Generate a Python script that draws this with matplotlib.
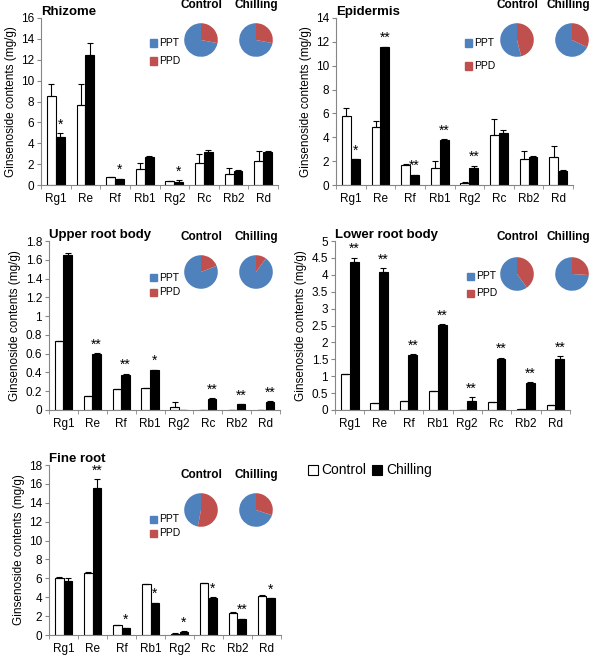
import numpy as np
import matplotlib
matplotlib.use('Agg')
import matplotlib.pyplot as plt
from matplotlib.patches import Rectangle
from matplotlib.ticker import FuncFormatter

plt.rcParams['font.family'] = ['Liberation Sans', 'DejaVu Sans']

ginsenosides = ['Rg1', 'Re', 'Rf', 'Rb1', 'Rg2', 'Rc', 'Rb2', 'Rd']

# values (mg/g), + upper error bars
rhizome_ctrl = [8.54, 7.68, 0.74, 1.57, 0.35, 2.14, 1.06, 2.34]
rhizome_ctrl_err = [1.15, 1.98, 0.03, 0.58, 0.03, 0.8, 0.54, 0.96]
rhizome_chil = [4.64, 12.48, 0.58, 2.72, 0.29, 3.2, 1.38, 3.2]
rhizome_chil_err = [0.32, 1.12, 0.04, 0.05, 0.19, 0.13, 0.04, 0.04]
rhizome_stars = ['*', '', '*', '', '*', '', '', '']

epi_ctrl = [5.8, 4.87, 1.71, 1.46, 0.2, 4.17, 2.18, 2.38]
epi_ctrl_err = [0.64, 0.53, 0.03, 0.59, 0.03, 1.34, 0.7, 0.9]
epi_chil = [2.16, 11.54, 0.84, 3.81, 1.46, 4.34, 2.38, 1.18]
epi_chil_err = [0.04, 0.06, 0.04, 0.05, 0.17, 0.28, 0.08, 0.04]
epi_stars = ['*', '**', '**', '**', '**', '', '', '']

upper_ctrl = [0.735, 0.15, 0.22, 0.23, 0.035, 0.0, 0.0, 0.005]
upper_ctrl_err = [0.0, 0.0, 0.005, 0.0, 0.045, 0.0, 0.0, 0.0]
upper_chil = [1.65, 0.6, 0.373, 0.426, 0.003, 0.12, 0.06, 0.089]
upper_chil_err = [0.02, 0.01, 0.015, 0.005, 0.0, 0.005, 0.005, 0.01]
upper_stars = ['', '**', '**', '*', '', '**', '**', '**']

lower_ctrl = [1.055, 0.2, 0.27, 0.57, 0.0, 0.25, 0.03, 0.14]
lower_ctrl_err = [0.0, 0.0, 0.0, 0.0, 0.0, 0.0, 0.0, 0.0]
lower_chil = [4.39, 4.09, 1.63, 2.51, 0.27, 1.5, 0.79, 1.51]
lower_chil_err = [0.12, 0.1, 0.03, 0.02, 0.1, 0.05, 0.03, 0.09]
lower_stars = ['**'] * 8

fine_ctrl = [6.07, 6.6, 1.06, 5.37, 0.14, 5.5, 2.36, 4.17]
fine_ctrl_err = [0.05, 0.02, 0.05, 0.05, 0.02, 0.05, 0.03, 0.05]
fine_chil = [5.72, 15.53, 0.7, 3.39, 0.35, 3.95, 1.69, 3.88]
fine_chil_err = [0.28, 0.95, 0.05, 0.05, 0.1, 0.1, 0.05, 0.05]
fine_stars = ['', '**', '*', '*', '*', '*', '**', '*']

# PPD share of the pies (control, chilling)
ppd_share = {
    'Rhizome': (0.28, 0.28),
    'Epidermis': (0.46, 0.32),
    'Upper root body': (0.19, 0.10),
    'Lower root body': (0.40, 0.26),
    'Fine root': (0.53, 0.30),
}

BLUE = '#4F81BD'
RED = '#C0504D'
GRAY = '#868686'

W, H = 592, 655
fig = plt.figure(figsize=(W / 100, H / 100), dpi=100)


def px_axes(l, t, r, b):
    return fig.add_axes([l / W, 1 - b / H, (r - l) / W, (b - t) / H])


def fx(x):
    return x / W


def fy(y):
    return 1 - y / H


def bar_panel(box, title, ctrl, ctrl_err, chil, chil_err, stars, ymax, ystep):
    ax = px_axes(*box)
    x = np.arange(len(ginsenosides))
    w = 0.3
    ax.bar(x - w / 2, ctrl, w, color='white', edgecolor='black', linewidth=0.8,
           yerr=[np.zeros(8), ctrl_err], capsize=2.5,
           error_kw=dict(elinewidth=0.8, capthick=0.8, ecolor='black'), zorder=2)
    ax.bar(x + w / 2, chil, w, color='black', edgecolor='black', linewidth=0.8,
           yerr=[np.zeros(8), chil_err], capsize=2.5,
           error_kw=dict(elinewidth=0.8, capthick=0.8, ecolor='black'), zorder=2)
    for i, s in enumerate(stars):
        if s:
            ax.annotate(s, (x[i] + w / 2, chil[i] + chil_err[i]), xytext=(0, 1),
                        textcoords='offset points', ha='center', va='bottom',
                        fontsize=10)
    ax.set_xlim(-0.5, 7.5)
    ax.set_ylim(0, ymax)
    ax.set_yticks(np.arange(0, ymax + ystep / 2, ystep))
    ax.yaxis.set_major_formatter(FuncFormatter(lambda v, p: f'{v:g}'))
    ax.set_xticks(x)
    ax.set_xticklabels(ginsenosides)
    ax.set_xticks(np.arange(-0.5, 8, 1), minor=True)
    ax.tick_params(axis='x', which='major', length=0, labelsize=8.5, pad=6)
    ax.tick_params(axis='x', which='minor', length=3, color=GRAY, direction='out')
    ax.tick_params(axis='y', length=3, color=GRAY, labelsize=8.5, pad=2)
    for side in ['top', 'right']:
        ax.spines[side].set_visible(False)
    for side in ['left', 'bottom']:
        ax.spines[side].set_color(GRAY)
        ax.spines[side].set_linewidth(0.8)
    ax.set_ylabel('Ginsenoside contents (mg/g)', fontsize=8.5, labelpad=3)
    ax.text(0.0, 1.0, title, transform=ax.transAxes, fontsize=9.5,
            fontweight='bold', ha='left', va='bottom')
    return ax


def pies(title, cx1, cx2, cy, label_y, leg_x, leg_y1, leg_y2):
    r = 21
    for cx, lab, ppd in [(cx1, 'Control', ppd_share[title][0]),
                         (cx2, 'Chilling', ppd_share[title][1])]:
        pa = fig.add_axes([fx(cx - r), fy(cy + r), 2 * r / W, 2 * r / H])
        pa.pie([1 - ppd, ppd], colors=[BLUE, RED], startangle=90,
               counterclock=True, wedgeprops=dict(linewidth=0))
        pa.set_aspect('equal')
        # keep the right-hand labels inside the figure
        lx = min(cx, W - 24)
        fig.text(fx(lx), fy(label_y), lab, ha='center', va='center',
                 fontsize=8.5, fontweight='bold')
    for yy, col, lab in [(leg_y1, BLUE, 'PPT'), (leg_y2, RED, 'PPD')]:
        fig.patches.append(Rectangle((fx(leg_x - 3.5), fy(yy + 3.5)), 7 / W, 7 / H,
                                     transform=fig.transFigure, color=col))
        fig.text(fx(leg_x + 6), fy(yy), lab, ha='left', va='center', fontsize=7.5)


bar_panel((41, 18, 278, 185), 'Rhizome', rhizome_ctrl, rhizome_ctrl_err,
          rhizome_chil, rhizome_chil_err, rhizome_stars, 16, 2)
pies('Rhizome', 201, 256, 40, 5, 153, 43, 61)

bar_panel((336, 18, 573, 185), 'Epidermis', epi_ctrl, epi_ctrl_err,
          epi_chil, epi_chil_err, epi_stars, 14, 2)
pies('Epidermis', 517, 572, 40, 5, 468, 43, 66)

bar_panel((49, 241, 280, 410), 'Upper root body', upper_ctrl, upper_ctrl_err,
          upper_chil, upper_chil_err, upper_stars, 1.8, 0.2)
pies('Upper root body', 201, 256, 272, 237, 153, 278, 292)

bar_panel((335, 241, 570, 410), 'Lower root body', lower_ctrl, lower_ctrl_err,
          lower_chil, lower_chil_err, lower_stars, 5, 0.5)
pies('Lower root body', 517, 572, 274, 237, 470, 276, 293)

bar_panel((49, 465, 281, 635), 'Fine root', fine_ctrl, fine_ctrl_err,
          fine_chil, fine_chil_err, fine_stars, 18, 2)
pies('Fine root', 201, 256, 510, 475, 153, 519, 533)

# Control / Chilling key
fig.patches.append(Rectangle((fx(308), fy(475)), 10 / W, 10 / H,
                             transform=fig.transFigure, facecolor='white',
                             edgecolor='black', linewidth=0.8))
fig.text(fx(321), fy(470), 'Control', ha='left', va='center', fontsize=10)
fig.patches.append(Rectangle((fx(372), fy(475)), 10 / W, 10 / H,
                             transform=fig.transFigure, facecolor='black',
                             edgecolor='black', linewidth=0.8))
fig.text(fx(386), fy(470), 'Chilling', ha='left', va='center', fontsize=10)

fig.savefig('out.png', dpi=100)
